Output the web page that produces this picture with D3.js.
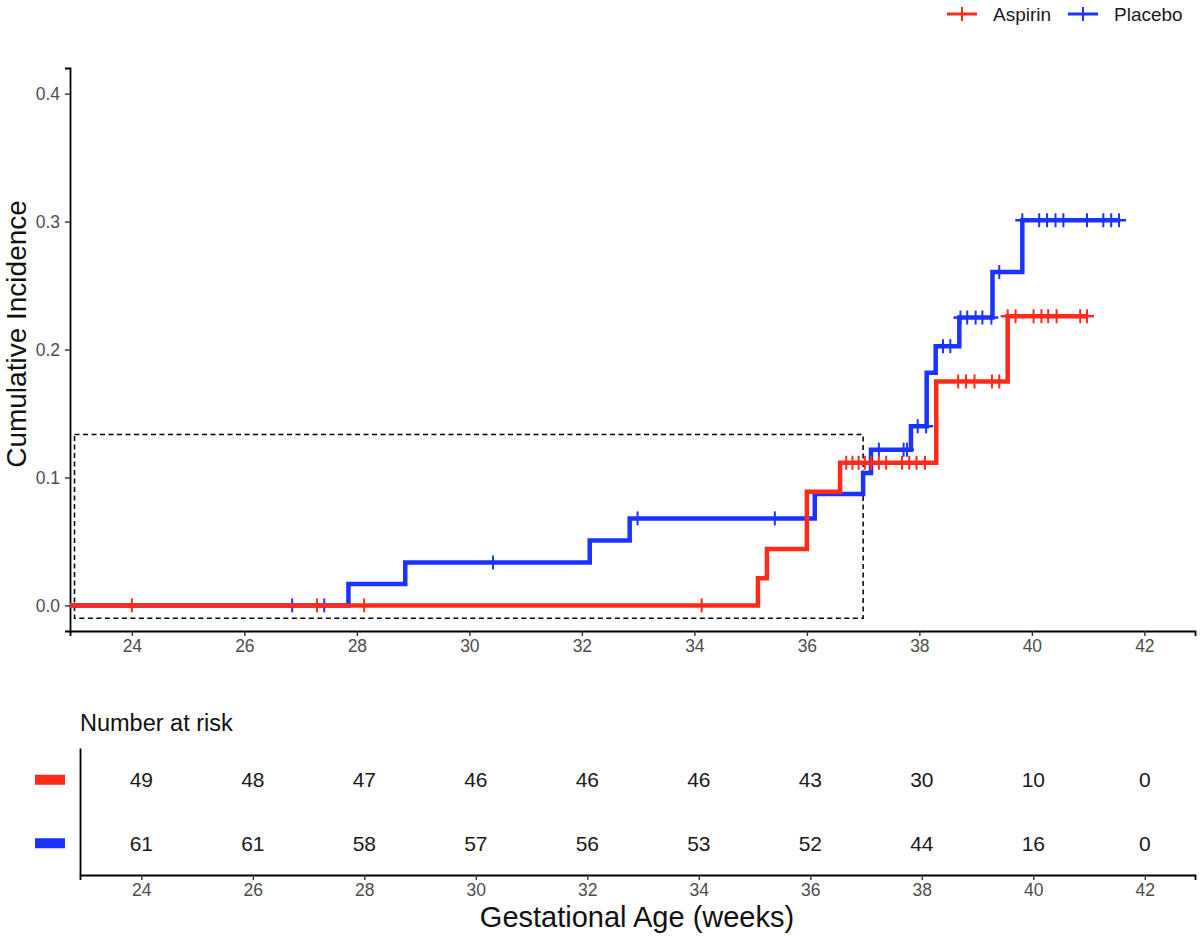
<!DOCTYPE html>
<html>
<head>
<meta charset="utf-8">
<script src="https://cdn.jsdelivr.net/npm/d3@7"></script>
<style>
  body { margin: 0; background: #fff; }
  text { font-family: "Liberation Sans", Arial, sans-serif; }
</style>
</head>
<body>
<div id="chart"></div>
<script>
// step curves (time in weeks, cumulative incidence after the step)
var aspirinStepTimes = [22.9, 35.13, 35.29, 36.0, 36.59, 38.3, 39.57];
var aspirinStepValues = [0, 0.0213, 0.044, 0.0888, 0.1115, 0.175, 0.226];
var aspirinEnd = 40.98;
var aspirinCensor = [24.0, 27.29, 28.13, 34.13, 36.7, 36.81, 36.92, 37.03, 37.14, 37.28, 37.41,
                     37.69, 37.82, 37.95, 38.1, 38.69, 38.83, 38.98, 39.29, 39.42,
                     39.57, 39.71, 40.03, 40.17, 40.29, 40.44, 40.86, 40.98];

var placeboStepTimes = [22.9, 27.85, 28.86, 32.14, 32.85, 36.14, 37.0, 37.14, 37.85, 38.13, 38.29, 38.71, 39.3, 39.83];
var placeboStepValues = [0, 0.0168, 0.0335, 0.0507, 0.068, 0.087, 0.1035, 0.1217, 0.140, 0.1818, 0.2026, 0.225, 0.2605, 0.301];
var placeboEnd = 41.55;
var placeboCensor = [26.85, 27.42, 30.42, 32.99, 35.43, 37.28, 37.72, 37.78, 37.97, 38.12, 38.42, 38.55,
                     38.73, 38.85, 39.0, 39.12, 39.28, 39.42, 39.83, 40.13, 40.27, 40.42, 40.56,
                     40.98, 41.27, 41.41, 41.55];

// zoom box drawn on the plot
var boxX = [22.98, 37.0];
var boxY = [-0.01, 0.1335];

// number at risk table
var riskTimes = [24, 26, 28, 30, 32, 34, 36, 38, 40, 42];
var aspirinRisk = [49, 48, 47, 46, 46, 46, 43, 30, 10, 0];
var placeboRisk = [61, 61, 58, 57, 56, 53, 52, 44, 16, 0];

var xTicks = [24, 26, 28, 30, 32, 34, 36, 38, 40, 42];
var yTicks = [0, 0.1, 0.2, 0.3, 0.4];

var red = "#ff2a1a";
var blue = "#1a33ff";

var width = 1200, height = 936;

var svg = d3.select("#chart").append("svg")
    .attr("width", width)
    .attr("height", height);

// main panel
var x = d3.scaleLinear().domain([22.9, 42.9]).range([70, 1195]);
var y = d3.scaleLinear().domain([-0.02, 0.42]).range([631, 68]);

svg.append("defs").append("clipPath").attr("id", "clip")
    .append("rect").attr("x", 70).attr("y", 68).attr("width", 1125).attr("height", 563);

var gx = svg.append("g").attr("transform", "translate(0,631)")
    .call(d3.axisBottom(x).tickValues(xTicks).tickSize(5).tickPadding(4).tickFormat(d3.format("d")));
var gy = svg.append("g").attr("transform", "translate(70,0)")
    .call(d3.axisLeft(y).tickValues(yTicks).tickSize(5).tickPadding(5).tickFormat(d3.format(".1f")));

function styleAxis(g){
    g.select(".domain").attr("stroke", "#000").attr("stroke-width", 1.8);
    g.selectAll(".tick line").attr("stroke", "#333").attr("stroke-width", 1.4);
    g.selectAll(".tick text").attr("fill", "#4d4d4d").style("font-size", "17.5px")
        .style("font-family", "Liberation Sans, Arial, sans-serif");
}
styleAxis(gx);
styleAxis(gy);

svg.append("text")
    .attr("transform", "translate(26,334) rotate(-90)")
    .attr("text-anchor", "middle")
    .style("font-size", "28px")
    .attr("fill", "#111")
    .text("Cumulative Incidence");

var plot = svg.append("g").attr("clip-path", "url(#clip)");

// dashed box
plot.append("rect")
    .attr("x", x(boxX[0]))
    .attr("y", y(boxY[1]))
    .attr("width", x(boxX[1]) - x(boxX[0]))
    .attr("height", y(boxY[0]) - y(boxY[1]))
    .attr("fill", "none")
    .attr("stroke", "#000")
    .attr("stroke-width", 1.5)
    .attr("stroke-dasharray", "5,3.5");

var line = d3.line()
    .x(function(d){ return x(d[0]); })
    .y(function(d){ return y(d[1]); })
    .curve(d3.curveStepAfter);

function stepValueAt(times, values, t){
    var v = 0;
    for (let i = 0; i < times.length; i++){
        if (times[i] <= t) v = values[i];
    }
    return v;
}

var groups = [
    {name: "Placebo", times: placeboStepTimes, values: placeboStepValues, end: placeboEnd, censor: placeboCensor, color: blue},
    {name: "Aspirin", times: aspirinStepTimes, values: aspirinStepValues, end: aspirinEnd, censor: aspirinCensor, color: red}
];

groups.forEach(function(gr){
    var pts = gr.times.map(function(t, i){ return [t, gr.values[i]]; });
    pts.push([gr.end, gr.values[gr.values.length - 1]]);
    plot.append("path")
        .attr("d", line(pts))
        .attr("fill", "none")
        .attr("stroke", gr.color)
        .attr("stroke-width", 4.5);

    var cs = plot.append("g");
    gr.censor.forEach(function(t){
        var cx = x(t), cy = y(stepValueAt(gr.times, gr.values, t));
        cs.append("line").attr("x1", cx).attr("x2", cx).attr("y1", cy - 7).attr("y2", cy + 7)
            .attr("stroke", gr.color).attr("stroke-width", 2);
        cs.append("line").attr("x1", cx - 7).attr("x2", cx + 7).attr("y1", cy).attr("y2", cy)
            .attr("stroke", gr.color).attr("stroke-width", 2.5);
    });
});

// legend
var legend = svg.append("g").attr("transform", "translate(947,14)");
[{name: "Aspirin", color: red, dx: 0}, {name: "Placebo", color: blue, dx: 121}].forEach(function(l){
    var g = legend.append("g").attr("transform", "translate(" + l.dx + ",0)");
    g.append("line").attr("x1", 0).attr("x2", 30).attr("y1", 0).attr("y2", 0)
        .attr("stroke", l.color).attr("stroke-width", 3);
    g.append("line").attr("x1", 15).attr("x2", 15).attr("y1", -7).attr("y2", 7)
        .attr("stroke", l.color).attr("stroke-width", 2);
    g.append("text").attr("x", 46).attr("y", 6.5).style("font-size", "19px").attr("fill", "#1a1a1a").text(l.name);
});

// risk table
var xr = d3.scaleLinear().domain([22.9, 42.9]).range([80, 1195]);
var yr = d3.scaleBand().domain(["Aspirin", "Placebo"]).range([748, 875]);

svg.append("text")
    .attr("x", 80).attr("y", 731)
    .style("font-size", "23.5px")
    .attr("fill", "#111")
    .text("Number at risk");

var gxr = svg.append("g").attr("transform", "translate(0,875)")
    .call(d3.axisBottom(xr).tickValues(xTicks).tickSize(5).tickPadding(4).tickFormat(d3.format("d")));
var gyr = svg.append("g").attr("transform", "translate(80,0)")
    .call(d3.axisLeft(yr).tickSize(0).tickFormat(""));
styleAxis(gxr);
styleAxis(gyr);

var riskRows = [{name: "Aspirin", vals: aspirinRisk, color: red}, {name: "Placebo", vals: placeboRisk, color: blue}];
riskRows.forEach(function(r){
    var cy = yr(r.name) + yr.bandwidth() / 2;
    svg.append("rect").attr("x", 35).attr("y", cy - 5).attr("width", 30).attr("height", 10).attr("fill", r.color);
    svg.selectAll(null)
        .data(r.vals)
        .join("text")
        .attr("x", function(d, i){ return xr(riskTimes[i]); })
        .attr("y", cy + 7.5)
        .attr("text-anchor", "middle")
        .style("font-size", "21px")
        .attr("fill", "#1a1a1a")
        .text(function(d){ return d; });
});

svg.append("text")
    .attr("x", 637).attr("y", 927)
    .attr("text-anchor", "middle")
    .style("font-size", "29px")
    .attr("fill", "#111")
    .text("Gestational Age (weeks)");
</script>
</body>
</html>
